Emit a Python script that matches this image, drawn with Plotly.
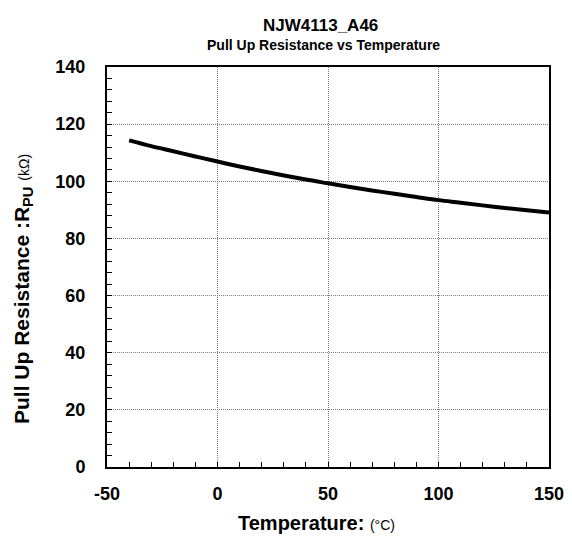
import plotly.graph_objects as go

temperature = [-40, -30, -20, -10, 0, 10, 25, 40, 50, 60, 75, 90, 100, 110, 125, 140, 150]
resistance = [114.3, 112.3, 110.5, 108.7, 106.9, 105.2, 102.8, 100.6, 99.3, 98.0, 96.2, 94.5, 93.4, 92.5, 91.1, 89.9, 89.1]

x_ticks = [-50, 0, 50, 100, 150]
y_ticks = [0, 20, 40, 60, 80, 100, 120, 140]

FONT = "Liberation Sans, Arial, sans-serif"

# page offset (browser default body margin)
OFF = 8
W, H = 556, 530
l, r, t, b = 99, 15, 59, 71
pw, ph = W - l - r, H - t - b

fig = go.Figure()
fig.add_trace(go.Scatter(x=temperature, y=resistance, mode="lines",
                         line=dict(color="black", width=4, shape="spline"),
                         showlegend=False))

axis_common = dict(
    showline=True, linecolor="black", linewidth=2, mirror=True,
    showgrid=True, gridcolor="#7a7a7a", gridwidth=1, griddash="1px,1px",
    ticks="inside", ticklen=5, tickcolor="black", tickwidth=1,
    tickfont=dict(family=FONT, size=18, color="black", weight="bold"),
    zeroline=False, ticklabeloverflow="allow", automargin=False,
)


def px2paper(px, py):
    return (px - OFF - l) / pw, 1 - (py - OFF - t) / ph


annots = [
    ("<b>NJW4113_A46</b>", 320, 25, 17, 0),
    ("<b>Pull Up Resistance vs Temperature</b>", 323, 45, 14, 0),
    ("<b>Temperature:</b> <span style='font-size:14px'>(°C)</span>", 316, 523, 20, 0),
    ("<b>Pull Up Resistance :R<sub>PU</sub></b> <span style='font-size:14px'>(kΩ)</span>", 23, 289, 21, -90),
]

annotations = []
for text, px, py, size, ang in annots:
    ax, ay = px2paper(px, py)
    annotations.append(dict(text=text, x=ax, y=ay, xref="paper", yref="paper",
                            xanchor="center", yanchor="middle", showarrow=False,
                            textangle=ang, font=dict(family=FONT, size=size, color="black")))

fig.update_layout(
    width=W, height=H,
    margin=dict(l=l, r=r, t=t, b=b, autoexpand=False),
    paper_bgcolor="white", plot_bgcolor="white",
    xaxis=dict(range=[-50, 150], tickvals=x_ticks, ticktext=[str(v) for v in x_ticks],
               minor=dict(dtick=10, ticks="inside", ticklen=5, tickcolor="black", showgrid=False),
               ticklabelstandoff=9, **axis_common),
    yaxis=dict(range=[0, 140], tickvals=y_ticks, ticktext=[str(v) for v in y_ticks],
               minor=dict(dtick=4, ticks="inside", ticklen=5, tickcolor="black", showgrid=False),
               ticklabelstandoff=16, **axis_common),
    annotations=annotations,
)

fig.write_html("out.html")
